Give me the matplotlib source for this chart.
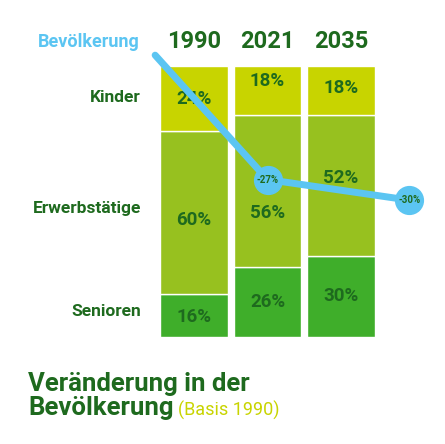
import matplotlib
matplotlib.use("Agg")
import matplotlib.pyplot as plt
import numpy as np

# ── Data ─────────────────────────────────────────────────────────────────────
years = ["1990", "2021", "2035"]
groups = ["Senioren", "Erwerbstätige", "Kinder"]
senioren = [16, 26, 30]
erwerb = [60, 56, 52]
kinder = [24, 18, 18]
pop_change = [0, -27, -30]

DARK = "#1E6A1E"
COLS = ["#3FAE2A", "#97C11F", "#C8D400"]
BLUE = "#5BC5F2"

# label placement inside each segment (fraction of segment height)
label_frac = [[0.45, 0.45, 0.5], [0.5, 0.35, 0.7], [0.5, 0.55, 0.55]]

plt.rcParams["font.family"] = ["Roboto", "DejaVu Sans"]

fig = plt.figure(figsize=(4.45, 4.44), dpi=100)
W, H = 445, 444
ax = fig.add_axes([150 / W, 1 - 337 / H, 235 / W, 271 / H])
ax.set_xlim(-0.6, 2.6)
ax.set_ylim(0, 100)
ax.axis("off")

x = np.arange(len(years))
bottom = np.zeros(3)
for si, (vals, c) in enumerate(zip([senioren, erwerb, kinder], COLS)):
    vals = np.array(vals)
    ax.bar(x, vals, bottom=bottom, width=0.925, color=c, edgecolor="white", linewidth=1)
    for xi, b, v in zip(x, bottom, vals):
        ax.text(xi, b + v * label_frac[xi][si], f"{v}%", ha="center", va="center",
                fontsize=13.5, fontweight="bold", color=DARK)
    bottom += vals

for xi, y in zip(x, years):
    ax.text(xi, 109, y, ha="center", va="center", fontsize=17,
            fontweight="bold", color=DARK)

# population line
lx = [-0.53, 1, 2.93]
ly = [104 + 1.7 * c for c in pop_change]
ly[2] = 50.5
ax.plot(lx, ly, color=BLUE, lw=5, clip_on=False, solid_capstyle="round", zorder=5)
for xi, yi, c in zip(lx[1:], ly[1:], pop_change[1:]):
    ax.scatter([xi], [yi], s=400, color=BLUE, zorder=6, clip_on=False)
    ax.text(xi, yi, f"{c}%", ha="center", va="center", fontsize=7,
            fontweight="bold", color=DARK, zorder=7)

fig.text(140 / W, 1 - 42 / H, "Bevölkerung", ha="right", va="center",
         fontsize=13, fontweight="bold", color=BLUE)
for name, yp in zip(["Kinder", "Erwerbstätige", "Senioren"], [97, 209, 311]):
    fig.text(141 / W, 1 - yp / H, name, ha="right", va="center",
             fontsize=12.5, fontweight="bold", color=DARK)

fig.text(28 / W, 1 - 384 / H, "Veränderung in der", ha="left", va="center",
         fontsize=18.5, fontweight="bold", color=DARK)
t = fig.text(28 / W, 1 - 408 / H, "Bevölkerung", ha="left", va="center",
             fontsize=18.5, fontweight="bold", color=DARK)
fig.canvas.draw()
bb = t.get_window_extent()
fig.text((bb.x1 + 5) / W, 1 - 410 / H, "(Basis 1990)", ha="left", va="center",
         fontsize=13, color="#C8D400")

fig.savefig("out.png", dpi=100)
